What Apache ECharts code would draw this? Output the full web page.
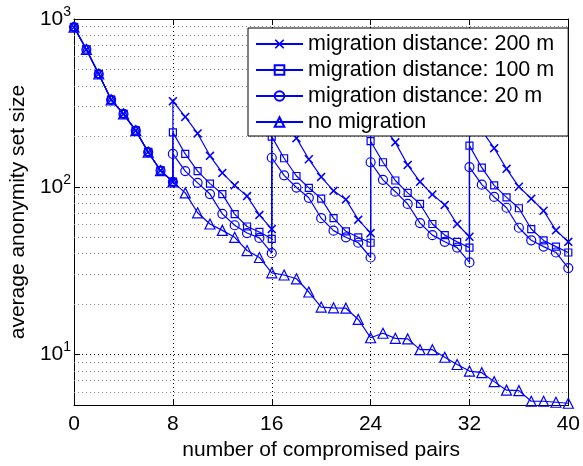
<!DOCTYPE html>
<html><head><meta charset="utf-8">
<script src="https://cdn.jsdelivr.net/npm/echarts@6/dist/echarts.min.js"></script>
<style>html,body{margin:0;padding:0;background:#fff}#c{width:583px;height:466px}</style>
</head><body><div id="c"></div>
<script>
// ---- data ----
const seriesNames = ['migration distance: 200 m', 'migration distance: 100 m', 'migration distance: 20 m', 'no migration'];
const xNoMigration = [0,1,2,3,4,5,6,7,8,9,10,11,12,13,14,15,16,17,18,19,20,21,22,23,24,25,26,27,28,29,30,31,32,33,34,35,36,37,38,39,40];
const noMigration = [894,658,470,330,272,216,161,125,107,92,70,60,55,50,41.7,37.9,30.7,29.8,28.3,23.6,19.2,19,18.9,16.2,12.6,13.4,12.5,12.4,10.7,10.7,9.64,8.73,7.98,7.8,6.9,6.14,6.1,5.27,5.27,5.2,5.13];
const xMigration = [0,1,2,3,4,5,6,7,8,8,9,10,11,12,13,14,15,16,16,17,18,19,20,21,22,23,24,24,25,26,27,28,29,30,31,32,32,33,34,35,36,37,38,39,40];
const mig200 = [894,658,470,330,272,216,161,125,107, 324,261,208,153,121,102,88,68,56, 305,245,195,146,114.5,94.6,84,63.7,53, 288,232,184,135,107,90,78,60,50.4, 270,216,170,128,100,85,72,55,47];
const mig100 = [894,658,470,330,272,216,161,125,107, 211,157,124,104.5,90.5,68.7,58,53.8,49, 199,148,116,98.6,85,65,54.3,50,46.4, 187,140,109,92,79,60,51.5,47,43.4, 176,130,102,86.5,74.5,56,47.9,44,40.6];
const mig20 = [894,658,470,330,272,216,161,125,107, 157,124,105.6,90.5,69,59,53,49.6,40.2, 149,117,99,86,65,54.8,50,46.4,37.9, 140,110,93.5,79,60.8,51.5,47,43.4,35.4, 131,103,87,75,57,48,44,40.6,32.8];
const xTickValues = [0,8,16,24,32,40];
const yMinorGrid = [6,7,8,9,20,30,40,50,60,70,80,90,200,300,400,500,600,700,800,900];

// ---- chart ----
const FONT = '"Liberation Sans", Arial, Helvetica, sans-serif';
const BLUE = '#0000ff';
const pair = (xs, ys) => xs.map((x, i) => [x, ys[i]]);
const XPATH = 'path://M0,1.2L1.2,0L5,3.8L8.8,0L10,1.2L6.2,5L10,8.8L8.8,10L5,6.2L1.2,10L0,8.8L3.8,5Z';

function mkSeries(name, xs, ys, symbol, size, hollow) {
  return {
    name: name, type: 'line', data: pair(xs, ys),
    symbol: symbol, symbolSize: size, showAllSymbol: true,
    lineStyle: { color: BLUE, width: 1.2 },
    itemStyle: hollow ? { color: 'rgba(255,255,255,0)', borderColor: BLUE, borderWidth: 1.2 } : { color: BLUE, borderWidth: 0 },
    emphasis: { disabled: true }, animation: false, z: 2
  };
}

const series = [
  mkSeries(seriesNames[0], xMigration, mig200, XPATH, 9, false),
  mkSeries(seriesNames[1], xMigration, mig100, 'rect', 7, true),
  mkSeries(seriesNames[2], xMigration, mig20, 'circle', 9, true),
  mkSeries(seriesNames[3], xNoMigration, noMigration, 'triangle', 10, true)
];
series.push({
  name: 'minorgrid', type: 'line', data: [], silent: true, animation: false,
  markLine: {
    z: 1, silent: true, symbol: ['none', 'none'], animation: false,
    label: { show: false },
    lineStyle: { color: '#888', type: [1, 3], width: 1 },
    data: yMinorGrid.map(v => ({ yAxis: v }))
  }
});

const axisLineStyle = { color: '#000', width: 1 };
const chart = echarts.init(document.getElementById('c'));
chart.setOption({
  animation: false,
  backgroundColor: '#fff',
  textStyle: { fontFamily: FONT },
  grid: { left: 70, right: 13, top: 19, bottom: 55, show: false },
  legend: {
    data: seriesNames, orient: 'vertical', left: 248, top: 28, z: 10,
    backgroundColor: '#fff', borderColor: '#000', borderWidth: 1,
    padding: [5, 14, 3, 7], itemGap: 4, itemWidth: 47, itemHeight: 12,
    textStyle: { fontSize: 21.5, color: '#000', fontFamily: FONT },
    selectedMode: false
  },
  xAxis: [{
    type: 'value', min: 0, max: 40, interval: 8,
    name: 'number of compromised pairs', nameLocation: 'middle', nameGap: 31,
    nameTextStyle: { fontSize: 21, color: '#000', fontFamily: FONT },
    axisLine: { show: true, onZero: false, lineStyle: axisLineStyle },
    axisTick: { show: true, inside: true, length: 6, lineStyle: axisLineStyle },
    axisLabel: { fontSize: 21, color: '#000', margin: 9, fontFamily: FONT },
    splitLine: { show: true, lineStyle: { color: '#000', type: [1, 3], width: 1 } }
  }, {
    type: 'value', min: 0, max: 40, interval: 8, position: 'top',
    axisLine: { show: true, onZero: false, lineStyle: axisLineStyle },
    axisTick: { show: true, inside: true, length: 6, lineStyle: axisLineStyle },
    axisLabel: { show: false }, splitLine: { show: false }
  }],
  yAxis: [{
    type: 'log', logBase: 10, min: 5, max: 1000,
    name: 'average anonymity set size', nameLocation: 'middle', nameGap: 44,
    nameTextStyle: { fontSize: 21, color: '#000', fontFamily: FONT },
    axisLine: { show: true, onZero: false, lineStyle: axisLineStyle },
    axisTick: { show: true, inside: true, length: 6, lineStyle: axisLineStyle },
    axisLabel: {
      margin: 3, color: '#000',
      formatter: function (v) {
        const e = Math.log10(v), r = Math.round(e);
        if (Math.abs(e - r) > 1e-6) return '';
        return '{b|10}{s|' + r + '}';
      },
      rich: {
        b: { fontSize: 21, fontFamily: FONT, color: '#000' },
        s: { fontSize: 14, fontFamily: FONT, color: '#000', padding: [0, 0, 14, 0] }
      }
    },
    splitLine: { show: true, lineStyle: { color: '#000', type: [1, 3], width: 1 } }
  }, {
    type: 'log', logBase: 10, min: 5, max: 1000, position: 'right',
    axisLine: { show: true, onZero: false, lineStyle: axisLineStyle },
    axisTick: { show: true, inside: true, length: 6, lineStyle: axisLineStyle },
    axisLabel: { show: false }, splitLine: { show: false }
  }],
  series: series
});
</script></body></html>
